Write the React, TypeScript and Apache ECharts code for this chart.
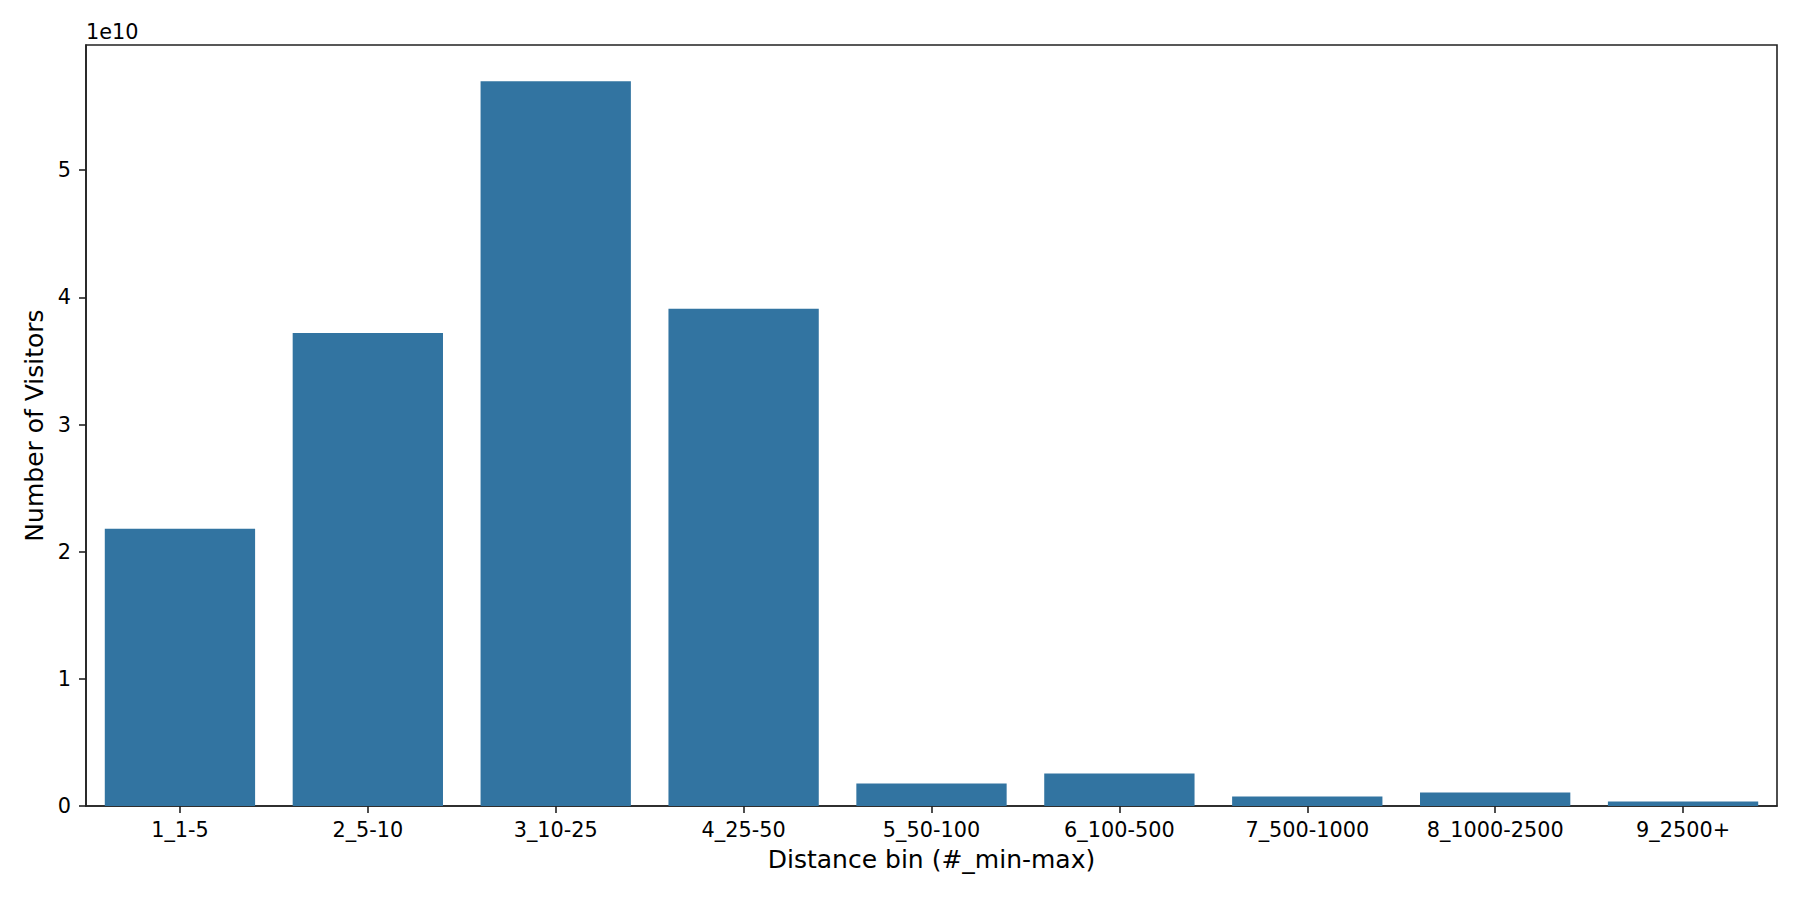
import React, { useEffect, useRef } from "react";
import * as echarts from "echarts";

const categories = [
  "1_1-5",
  "2_5-10",
  "3_10-25",
  "4_25-50",
  "5_50-100",
  "6_100-500",
  "7_500-1000",
  "8_1000-2500",
  "9_2500+",
];

const visitors = [
  2.18e10, 3.72e10, 5.7e10, 3.91e10, 0.176e10, 0.256e10, 0.075e10, 0.106e10, 0.035e10,
];

const yTicks = [0, 1e10, 2e10, 3e10, 4e10, 5e10];
const yMax = 5.985e10;

const FONT = "DejaVu Sans";
const AX = "#222222";

export default function App() {
  const ref = useRef<HTMLDivElement>(null);

  useEffect(() => {
    if (!ref.current) return;
    const chart = echarts.init(ref.current, null, { renderer: "svg" });
    chart.setOption({
      animation: false,
      backgroundColor: "#ffffff",
      grid: {
        left: 86,
        right: 23,
        top: 45,
        bottom: 94,
        show: true,
        borderColor: AX,
        borderWidth: 1.6,
        backgroundColor: "transparent",
      },
      graphic: [
        {
          type: "text",
          left: 86,
          top: 21,
          style: {
            text: "1e10",
            fontSize: 20.8,
            fontFamily: FONT,
            fill: "#000",
          },
        },
      ],
      xAxis: {
        type: "category",
        data: categories,
        boundaryGap: true,
        name: "Distance bin (#_min-max)",
        nameLocation: "middle",
        nameGap: 41,
        nameTextStyle: { fontSize: 25, fontFamily: FONT, color: "#000" },
        axisLine: { show: true, lineStyle: { color: AX, width: 1.6 } },
        axisTick: {
          show: true,
          alignWithLabel: true,
          length: 7,
          lineStyle: { color: AX, width: 1.6 },
        },
        axisLabel: {
          fontSize: 20.8,
          fontFamily: FONT,
          color: "#000",
          margin: 13,
          interval: 0,
        },
        splitLine: { show: false },
      },
      yAxis: {
        type: "value",
        min: 0,
        max: yMax,
        name: "Number of Visitors",
        nameLocation: "middle",
        nameGap: 38,
        nameRotate: 90,
        nameTextStyle: { fontSize: 25, fontFamily: FONT, color: "#000" },
        axisLine: { show: true, lineStyle: { color: AX, width: 1.6 } },
        axisTick: {
          show: true,
          length: 7,
          customValues: yTicks,
          lineStyle: { color: AX, width: 1.6 },
        },
        axisLabel: {
          fontSize: 20.8,
          fontFamily: FONT,
          color: "#000",
          margin: 15,
          customValues: yTicks,
          formatter: (v: number) => String(Math.round(v / 1e10)),
        },
        splitLine: { show: false },
      },
      series: [
        {
          type: "bar",
          data: visitors,
          barWidth: "80%",
          itemStyle: { color: "#3274a1" },
        },
      ],
    });
    return () => chart.dispose();
  }, []);

  return <div ref={ref} style={{ width: 1800, height: 900, margin: -8 }} />;
}
